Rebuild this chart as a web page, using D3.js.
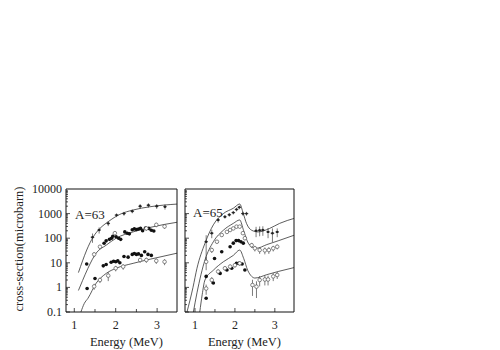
<!DOCTYPE html>
<html>
<head>
<meta charset="utf-8">
<script src="https://cdn.jsdelivr.net/npm/d3@7"></script>
<style>
  body { margin: 0; background: #fff; }
  svg { display: block; }
  text { font-family: "Liberation Serif", "DejaVu Serif", serif; fill: #222; }
</style>
</head>
<body>
<svg id="chart" width="500" height="350"></svg>
<script>
// ---- data: [energy MeV, cross-section microbarn, error] ----

// A=63 panel
const a63Curves = [
  [[1.10, 4], [1.20, 12], [1.30, 33], [1.46, 115], [1.62, 250], [1.82, 470], [2.10, 930], [2.42, 1400], [2.83, 1900], [3.50, 2450]],
  [[1.10, 0.75], [1.20, 1.9], [1.33, 6], [1.53, 25], [1.77, 52], [2.01, 100], [2.42, 180], [2.83, 275], [3.50, 450]],
  [[1.16, 0.1], [1.24, 0.22], [1.33, 0.36], [1.53, 1.5], [1.77, 3.7], [2.01, 6], [2.42, 9.5], [2.83, 14], [3.50, 25]]
];
const a63Cross = [
  [1.44, 110, 45], [1.60, 215, 60], [1.82, 400, 90], [2.02, 870, 150], [2.20, 1000, 180],
  [2.40, 1250, 220], [2.59, 2000, 450], [2.79, 2200, 450], [2.99, 2000, 450], [3.19, 1900, 450]
];
const a63MidFilled = [
  [1.30, 9, 0], [1.72, 62, 0], [1.77, 78, 0], [1.85, 90, 0], [1.90, 100, 0], [1.93, 120, 0],
  [2.01, 115, 0], [2.07, 100, 0], [2.12, 90, 0], [2.22, 180, 0], [2.28, 160, 0], [2.33, 150, 0],
  [2.40, 220, 0], [2.45, 240, 0], [2.50, 225, 0], [2.55, 235, 0], [2.60, 250, 0], [2.65, 200, 0],
  [2.72, 260, 0], [2.80, 250, 0], [2.86, 210, 0], [2.92, 195, 0]
];
const a63MidOpen = [
  [1.48, 22, 5], [1.62, 45, 8], [1.98, 160, 30], [2.74, 250, 50], [2.98, 350, 70], [3.18, 300, 60]
];
const a63LowFilled = [
  [1.31, 0.9, 0], [1.50, 2.3, 0], [1.70, 7.5, 0], [1.77, 8.5, 0], [1.89, 10.5, 0], [1.95, 11.5, 0],
  [2.00, 11, 0], [2.05, 12, 0], [2.10, 10, 0], [2.20, 18, 0], [2.30, 17, 0], [2.40, 22, 0],
  [2.45, 24, 0], [2.50, 22, 0], [2.55, 23, 0], [2.62, 20, 0], [2.70, 28, 0], [2.78, 22, 0], [2.86, 20, 0]
];
const a63LowOpen = [
  [1.48, 1.1, 0.3], [1.62, 2, 0.5], [1.82, 3, 1.2], [2.00, 6, 1.5], [2.18, 7, 1.8],
  [2.59, 13, 3], [2.74, 13, 3], [2.98, 12, 3], [3.18, 11, 3]
];

// A=65 panel
const a65Curves = [
  [[0.80, 0.1], [0.95, 1], [1.05, 6], [1.25, 62], [1.46, 350], [1.71, 1000], [1.96, 1650], [2.12, 2450],
   [2.21, 1000], [2.29, 400], [2.42, 210], [2.58, 180], [2.87, 250], [3.12, 400], [3.50, 650]],
  [[0.96, 0.1], [1.05, 0.6], [1.25, 13], [1.46, 72], [1.71, 210], [1.96, 400], [2.12, 550],
   [2.22, 200], [2.32, 70], [2.42, 45], [2.54, 39], [2.80, 55], [3.10, 80], [3.50, 135]],
  [[1.12, 0.1], [1.18, 0.5], [1.25, 2], [1.46, 5], [1.71, 11], [1.96, 20], [2.12, 33],
   [2.22, 15], [2.32, 5], [2.42, 2.8], [2.50, 2.4], [2.80, 3.3], [3.10, 4.5], [3.50, 6.5]]
];
const a65Cross = [
  [1.28, 72, 60], [1.42, 160, 60], [1.58, 550, 120], [1.75, 740, 120], [1.86, 900, 150], [1.96, 1100, 180],
  [2.04, 1480, 250], [2.11, 1800, 300], [2.20, 1000, 180], [2.29, 1000, 180], [2.53, 200, 90],
  [2.62, 210, 90], [2.70, 215, 90], [2.83, 180, 80], [2.94, 160, 90], [3.06, 180, 70]
];
const a65MidOpen = [
  [1.28, 11, 6], [1.42, 33, 8], [1.55, 72, 12], [1.67, 135, 20], [1.80, 180, 25], [1.88, 215, 30],
  [1.96, 250, 35], [2.04, 295, 40], [2.12, 295, 40], [2.20, 160, 25], [2.25, 100, 18], [2.42, 52, 12],
  [2.50, 39, 10], [2.62, 33, 10], [2.75, 32, 10], [2.85, 33, 10], [2.96, 39, 10], [3.06, 45, 10]
];
const a65MidFilled = [
  [1.28, 2.8, 0], [1.49, 15, 0], [1.67, 28, 0], [1.88, 45, 0], [1.96, 63, 0], [2.03, 80, 0],
  [2.09, 80, 0], [2.15, 72, 0], [2.21, 63, 0]
];
const a65LowFilled = [
  [1.28, 0.36, 0], [1.46, 1.5, 0], [1.63, 3.7, 0], [1.80, 5.1, 0], [1.92, 6, 0], [2.04, 9.5, 0],
  [2.10, 9.5, 0], [2.18, 9, 0], [2.25, 5.1, 0]
];
const a65LowOpen = [
  [1.28, 0.9, 0.4], [1.42, 2, 0.6], [1.58, 4.4, 1], [1.75, 6, 1.2], [1.88, 7, 1.5], [2.00, 8, 1.6],
  [2.12, 9.5, 2], [2.44, 1.25, 0.8], [2.54, 1.07, 0.7], [2.62, 2, 0.9], [2.75, 2.1, 0.9],
  [2.83, 2.1, 0.9], [2.96, 2.8, 1], [3.06, 3.2, 1]
];

const xTicks = [1, 2, 3];
const xMinorTicks = [1.5, 2.5];
const yTicks = [0.1, 1, 10, 100, 1000, 10000];
const yTickLabels = ["0.1", "1", "10", "100", "1000", "10000"];

// ---- layout ----
const svg = d3.select("#chart");
const plotTop = 189, plotBottom = 312;

const y = d3.scaleLog().domain([0.1, 10000]).range([plotBottom, plotTop]);

const yMinor = [];
yTicks.slice(0, -1).forEach(d => {
  for (let k = 2; k <= 9; k++) yMinor.push(d * k);
});

const drawPanel = function (opts) {
  const x = d3.scaleLinear().domain(opts.domain).range([opts.left, opts.right]);
  const g = svg.append("g");
  const clipId = "clip-" + opts.name;

  svg.append("clipPath").attr("id", clipId)
    .append("rect")
    .attr("x", opts.left).attr("y", plotTop)
    .attr("width", opts.right - opts.left).attr("height", plotBottom - plotTop);

  const plot = g.append("g").attr("clip-path", `url(#${clipId})`);

  // model curves
  const line = d3.line()
    .x(d => x(d[0]))
    .y(d => y(Math.max(d[1], 0.02)))
    .curve(d3.curveMonotoneX);

  plot.append("g")
    .attr("fill", "none")
    .attr("stroke", "#333")
    .attr("stroke-width", 0.8)
    .selectAll("path")
    .data(opts.curves)
    .join("path")
    .attr("d", line);

  // error bars
  const allPts = [].concat(opts.cross, opts.open, opts.filled);
  plot.append("g")
    .attr("stroke", "#444")
    .attr("stroke-width", 0.7)
    .selectAll("line")
    .data(allPts.filter(d => d[2] > 0))
    .join("line")
    .attr("x1", d => x(d[0])).attr("x2", d => x(d[0]))
    .attr("y1", d => y(Math.max(d[1] - d[2], 0.02)))
    .attr("y2", d => y(d[1] + d[2]));

  // crosses
  const cr = plot.append("g").selectAll("g")
    .data(opts.cross)
    .join("g")
    .attr("transform", d => `translate(${x(d[0])},${y(d[1])})`);
  cr.append("line")
    .attr("x1", -1.8).attr("x2", 1.8)
    .attr("stroke", "#222").attr("stroke-width", 0.8);
  cr.append("circle")
    .attr("r", 1.2)
    .attr("fill", "#222");

  // filled circles
  plot.append("g").selectAll("circle")
    .data(opts.filled)
    .join("circle")
    .attr("cx", d => x(d[0]))
    .attr("cy", d => y(d[1]))
    .attr("r", 1.8)
    .attr("fill", "#111");

  // open circles
  plot.append("g").selectAll("circle")
    .data(opts.open)
    .join("circle")
    .attr("cx", d => x(d[0]))
    .attr("cy", d => y(d[1]))
    .attr("r", 1.8)
    .attr("fill", "#fff")
    .attr("stroke", "#555")
    .attr("stroke-width", 0.7);

  // ticks
  const ticks = g.append("g").attr("stroke", "#222").attr("stroke-width", 0.8);
  ticks.selectAll(".ymaj")
    .data(yTicks)
    .join("line")
    .attr("x1", opts.left).attr("x2", opts.left + 4)
    .attr("y1", d => y(d)).attr("y2", d => y(d));
  ticks.selectAll(".ymin")
    .data(yMinor)
    .join("line")
    .attr("x1", opts.left).attr("x2", opts.left + 2)
    .attr("y1", d => y(d)).attr("y2", d => y(d));
  ticks.selectAll(".xt")
    .data(xTicks.concat(xMinorTicks))
    .join("line")
    .attr("x1", d => x(d)).attr("x2", d => x(d))
    .attr("y1", plotBottom).attr("y2", d => plotBottom - (Number.isInteger(d) ? 4 : 3));

  // frame: grey top edge, black others
  g.append("line")
    .attr("x1", opts.left).attr("x2", opts.right)
    .attr("y1", plotTop).attr("y2", plotTop)
    .attr("stroke", "#888").attr("stroke-width", 2);
  g.append("path")
    .attr("d", `M${opts.left},${plotTop}V${plotBottom}H${opts.right}V${plotTop}`)
    .attr("fill", "none")
    .attr("stroke", "#111")
    .attr("stroke-width", 1);

  // x tick labels
  g.append("g").selectAll("text")
    .data(xTicks)
    .join("text")
    .attr("x", d => x(d))
    .attr("y", 329)
    .attr("text-anchor", "middle")
    .attr("font-size", 12)
    .text(d => d);

  g.append("text")
    .attr("x", (opts.left + opts.right) / 2 + 5)
    .attr("y", 346)
    .attr("text-anchor", "middle")
    .attr("font-size", 12.5)
    .text("Energy (MeV)");

  g.append("text")
    .attr("x", opts.labelX)
    .attr("y", opts.labelY)
    .attr("font-size", 13)
    .text(opts.label);

  return x;
};

drawPanel({
  name: "a63", domain: [0.8, 3.48], left: 66, right: 177,
  curves: a63Curves, cross: a63Cross,
  open: a63MidOpen.concat(a63LowOpen),
  filled: a63MidFilled.concat(a63LowFilled),
  label: "A=63", labelX: 75, labelY: 219
});

drawPanel({
  name: "a65", domain: [0.75, 3.48], left: 185, right: 294,
  curves: a65Curves, cross: a65Cross,
  open: a65MidOpen.concat(a65LowOpen),
  filled: a65MidFilled.concat(a65LowFilled),
  label: "A=65", labelX: 193, labelY: 217
});

// y tick labels (left panel only)
svg.append("g").selectAll("text")
  .data(yTicks)
  .join("text")
  .attr("x", 62)
  .attr("y", d => y(d) + 4)
  .attr("text-anchor", "end")
  .attr("font-size", 12)
  .text((d, i) => yTickLabels[i]);

svg.append("text")
  .attr("transform", "translate(23,249) rotate(-90)")
  .attr("text-anchor", "middle")
  .attr("font-size", 12.5)
  .text("cross-section(microbarn)");
</script>
</body>
</html>
